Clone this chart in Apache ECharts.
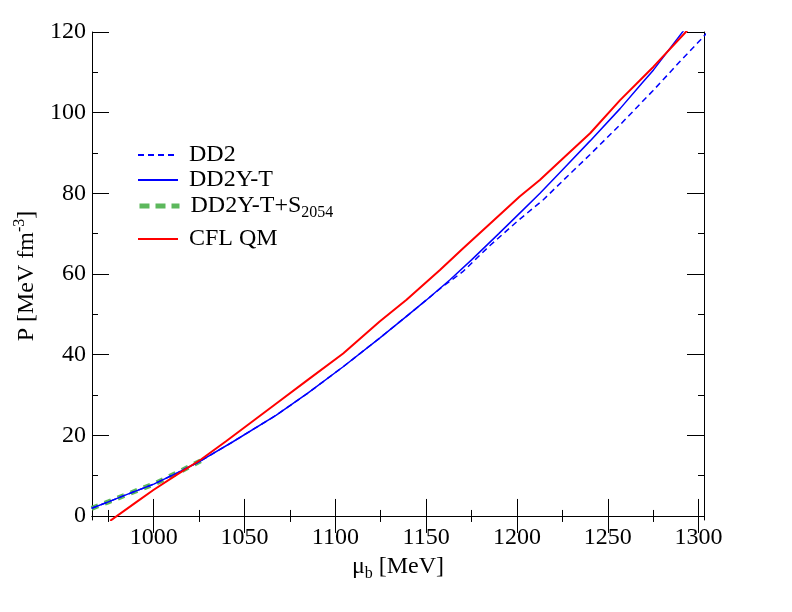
<meta charset="utf-8">
<script src="https://cdn.jsdelivr.net/npm/echarts/dist/echarts.min.js"></script>
<div id="main" style="position: absolute; left: 0; top: 0; width: 792px; height: 612px;"></div>

<script type="text/javascript">
// mu_b [MeV] and P [MeV fm^-3]
const commonMu = [965.8, 975, 985, 1000, 1013, 1026, 1043.6, 1067.5, 1085, 1104.3, 1124.4, 1140, 1150]
const commonP  = [1.9, 3.5, 5.3, 7.9, 10.7, 13.7, 18.4, 25.0, 30.5, 37.0, 44.1, 49.8, 53.5]

const dd2TailMu = [1158, 1170, 1185, 1200, 1214.5, 1225, 1240, 1256.8, 1275, 1290, 1301, 1310]
const dd2TailP  = [56.5, 60.5, 67.0, 73.0, 78.4, 83.0, 89.5, 97.0, 105.5, 112.8, 118.0, 122.5]

const hypTailMu = [1163, 1175, 1190, 1200, 1212.7, 1225, 1240.3, 1256.8, 1268.8, 1275.2, 1291.7, 1300]
const hypTailP  = [58.5, 63.5, 70.0, 74.4, 80.0, 85.8, 93.0, 101.0, 107.3, 110.6, 120.3, 125.0]

const sMu = [965.8, 975, 985, 1000, 1013, 1026]
const sP  = [1.9, 3.5, 5.3, 7.9, 10.7, 13.7]

const cflMu = [976, 990, 1000, 1013, 1026, 1040, 1067.5, 1085, 1104.3, 1124.4, 1139.2, 1157.6, 1170.4, 1185, 1201.5, 1212.6, 1225, 1240.3, 1256.8, 1267.9, 1275.2, 1293.6, 1300]
const cflP  = [-1.2, 3.3, 6.5, 10.3, 14.0, 18.6, 27.9, 33.8, 40.3, 48.2, 53.6, 61.0, 66.4, 72.4, 79.2, 83.3, 88.5, 94.9, 103.1, 108.1, 111.4, 120.3, 123.5]

const xMajor = [1000, 1050, 1100, 1150, 1200, 1250, 1300]
const xMinor = [975, 1025, 1075, 1125, 1175, 1225, 1275]
const yMajor = [0, 20, 40, 60, 80, 100, 120]
const yMinor = [10, 30, 50, 70, 90, 110]

const pairs = (xs, ys) => xs.map((x, i) => [x, ys[i]])
const FONT = 'Liberation Serif'
const FS = 24

let myChart = echarts.init(main)

const xAx = (pos, vals, len, labels, line) => ({
  type: 'value', position: pos, min: 966, max: 1303,
  axisLine: {show: line, lineStyle: {color: '#000', width: 1}},
  axisTick: {show: true, inside: true, length: len, customValues: vals, lineStyle: {color: '#000'}},
  axisLabel: labels ? {show: true, customValues: vals, formatter: v => String(v), color: '#000', fontFamily: FONT, fontSize: FS, margin: 6} : {show: false},
  splitLine: {show: false},
})
const yAx = (pos, vals, len, labels, line) => ({
  type: 'value', position: pos, min: -1, max: 120,
  axisLine: {show: line, onZero: false, lineStyle: {color: '#000', width: 1}},
  axisTick: {show: true, inside: true, length: len, customValues: vals, lineStyle: {color: '#000'}},
  axisLabel: labels ? {show: true, customValues: vals, formatter: v => String(v), color: '#000', fontFamily: FONT, fontSize: FS, margin: 6} : {show: false},
  splitLine: {show: false},
})

const rich = {
  t: {fontSize: FS, fontFamily: FONT, color: '#000'},
  s: {fontSize: 16, fontFamily: FONT, color: '#000', padding: [13, 0, 0, 0]},
  u: {fontSize: 16, fontFamily: FONT, color: '#000', padding: [0, 0, 14, 0]},
}

const xAxes = [
  xAx('bottom', xMajor, 17, true, true),
  xAx('bottom', xMinor, 6, false, false),
  xAx('top', xMajor, 17, false, true),
  xAx('top', xMinor, 6, false, false),
]
xAxes[0].name = '{t|μ}{s|b}{t| [MeV]}'
xAxes[0].nameLocation = 'middle'
xAxes[0].nameGap = 28
xAxes[0].nameTextStyle = {color: '#000', fontFamily: FONT, rich}

const yAxes = [
  yAx('left', yMajor, 17, true, true),
  yAx('left', yMinor, 6, false, false),
  yAx('right', yMajor, 17, false, true),
  yAx('right', yMinor, 6, false, false),
]
yAxes[0].name = '{t|P [MeV fm}{u|-3}{t|]}'
yAxes[0].nameLocation = 'middle'
yAxes[0].nameGap = 43
yAxes[0].nameTextStyle = {color: '#000', fontFamily: FONT, rich}

const names = ['DD2', 'DD2Y-T', 'DD2Y-T+S2054', 'CFL QM']
const legendTops = [138, 163, 189, 222]

myChart.setOption({
  backgroundColor: '#fff',
  animation: false,
  grid: {left: 92, right: 88, top: 32, bottom: 92, show: false},
  xAxis: xAxes,
  yAxis: yAxes,
  legend: names.map((n, i) => ({
    data: [n],
    left: 132, top: legendTops[i],
    orient: 'vertical',
    itemWidth: 40, itemHeight: 14,
    selectedMode: false,
    itemStyle: {color: 'transparent', borderColor: 'transparent', borderWidth: 0, opacity: 0},
    lineStyle: n === 'DD2Y-T+S2054' ? {width: 5, type: [10, 6]} : {},
    formatter: n === 'DD2Y-T+S2054' ? '{t|DD2Y-T+S}{s|2054}' : '{t|' + n + '}',
    textStyle: {color: '#000', fontFamily: FONT, fontSize: FS, padding: [0, 0, 0, 6], rich},
  })),
  series: [
    {
      name: 'DD2', type: 'line', symbol: 'none', z: 2,
      data: pairs(commonMu.concat(dd2TailMu), commonP.concat(dd2TailP)),
      lineStyle: {color: '#0000ff', width: 1.5, type: [6, 4]}, itemStyle: {color: '#0000ff'},
    },
    {
      name: 'DD2Y-T', type: 'line', symbol: 'none', z: 3,
      data: pairs(commonMu.concat(hypTailMu), commonP.concat(hypTailP)),
      lineStyle: {color: '#0000ff', width: 1.5}, itemStyle: {color: '#0000ff'},
    },
    {
      name: 'DD2Y-T+S2054', type: 'line', symbol: 'none', z: 1,
      data: pairs(sMu, sP),
      lineStyle: {color: '#5cb85c', width: 5, type: [7, 7]}, itemStyle: {color: '#5cb85c'},
    },
    {
      name: 'CFL QM', type: 'line', symbol: 'none', z: 4,
      data: pairs(cflMu, cflP),
      lineStyle: {color: '#ff0000', width: 2}, itemStyle: {color: '#ff0000'},
    },
  ],
})
</script>
